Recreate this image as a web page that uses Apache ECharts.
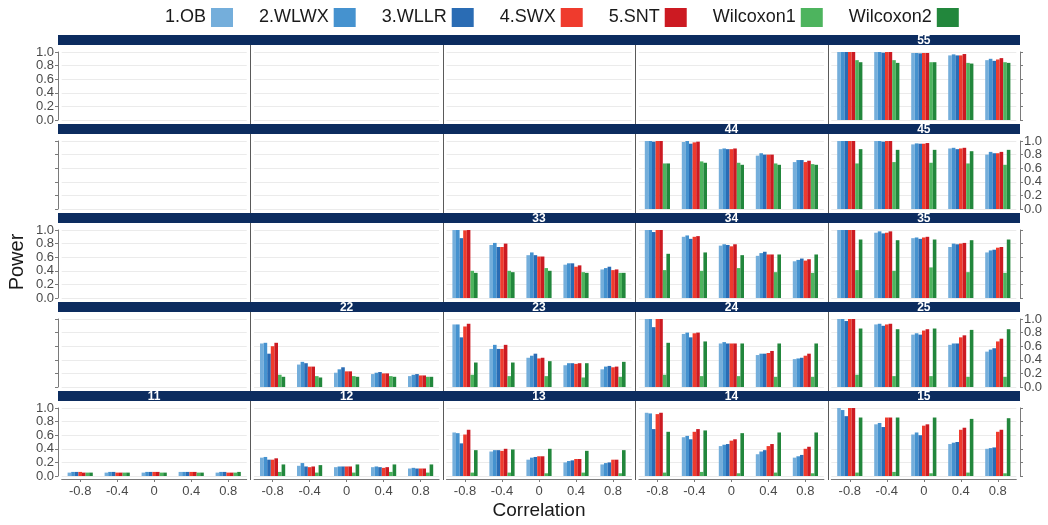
<!DOCTYPE html>
<html>
<head>
<meta charset="utf-8">
<script src="https://cdn.jsdelivr.net/npm/echarts@6/dist/echarts.min.js"></script>
<style>
  html, body { margin: 0; padding: 0; background: #ffffff; }
  #chart { width: 1048px; height: 525px; }
</style>
</head>
<body>
<div id="chart"></div>
<script>
// Categories and methods
const correlations = ['-0.8', '-0.4', '0', '0.4', '0.8'];
const methods = ['1.OB', '2.WLWX', '3.WLLR', '4.SWX', '5.SNT', 'Wilcoxon1', 'Wilcoxon2'];
const methodColors = ['#74aedb', '#4592cf', '#2a6cb4', '#ef3b2d', '#cc1a22', '#4db45e', '#22873c'];

// Power per panel: one row per method (same order as `methods`), one column per correlation
const p55 = [
  [1.00, 1.00, 0.985, 0.95, 0.88],
  [1.00, 1.00, 0.985, 0.965, 0.90],
  [1.00, 0.99, 0.98, 0.95, 0.87],
  [1.00, 1.00, 0.985, 0.95, 0.89],
  [1.00, 1.00, 0.985, 0.97, 0.91],
  [0.88, 0.88, 0.85, 0.84, 0.85],
  [0.85, 0.84, 0.85, 0.83, 0.84]
];
const p44 = [
  [1.00, 0.985, 0.88, 0.785, 0.69],
  [1.00, 1.00, 0.89, 0.82, 0.72],
  [0.99, 0.96, 0.88, 0.80, 0.72],
  [1.00, 0.98, 0.88, 0.80, 0.69],
  [1.00, 0.99, 0.89, 0.80, 0.71],
  [0.67, 0.70, 0.68, 0.67, 0.66],
  [0.67, 0.68, 0.65, 0.65, 0.65]
];
const p45 = [
  [1.00, 1.00, 0.95, 0.89, 0.80],
  [1.00, 1.00, 0.965, 0.90, 0.84],
  [1.00, 0.99, 0.96, 0.88, 0.82],
  [1.00, 1.00, 0.96, 0.89, 0.82],
  [1.00, 1.00, 0.97, 0.90, 0.84],
  [0.67, 0.69, 0.68, 0.67, 0.65],
  [0.88, 0.87, 0.87, 0.85, 0.87]
];
const p33 = [
  [1.00, 0.78, 0.63, 0.49, 0.42],
  [1.00, 0.81, 0.67, 0.51, 0.44],
  [0.88, 0.75, 0.63, 0.51, 0.46],
  [0.995, 0.75, 0.61, 0.46, 0.41],
  [1.00, 0.80, 0.61, 0.48, 0.42],
  [0.40, 0.40, 0.44, 0.38, 0.37],
  [0.37, 0.38, 0.40, 0.37, 0.37]
];
const p34 = [
  [1.00, 0.90, 0.77, 0.62, 0.54],
  [1.00, 0.92, 0.79, 0.66, 0.56],
  [0.97, 0.87, 0.78, 0.68, 0.58],
  [1.00, 0.90, 0.76, 0.64, 0.55],
  [1.00, 0.91, 0.79, 0.64, 0.57],
  [0.41, 0.40, 0.44, 0.38, 0.37],
  [0.65, 0.67, 0.63, 0.64, 0.64]
];
const p35 = [
  [1.00, 0.96, 0.88, 0.75, 0.67],
  [1.00, 0.98, 0.89, 0.80, 0.70],
  [1.00, 0.95, 0.87, 0.79, 0.71],
  [1.00, 0.96, 0.89, 0.80, 0.74],
  [1.00, 0.98, 0.90, 0.81, 0.75],
  [0.41, 0.40, 0.45, 0.38, 0.37],
  [0.86, 0.85, 0.86, 0.85, 0.86]
];
const p22 = [
  [0.64, 0.33, 0.21, 0.19, 0.16],
  [0.65, 0.37, 0.26, 0.21, 0.18],
  [0.49, 0.35, 0.29, 0.22, 0.19],
  [0.60, 0.30, 0.23, 0.20, 0.17],
  [0.65, 0.30, 0.23, 0.20, 0.17],
  [0.18, 0.16, 0.16, 0.16, 0.15],
  [0.15, 0.14, 0.15, 0.15, 0.15]
];
const p23 = [
  [0.92, 0.56, 0.43, 0.32, 0.26],
  [0.92, 0.62, 0.46, 0.35, 0.30],
  [0.73, 0.56, 0.49, 0.35, 0.31],
  [0.89, 0.56, 0.42, 0.34, 0.29],
  [0.93, 0.62, 0.43, 0.35, 0.30],
  [0.18, 0.16, 0.16, 0.14, 0.15],
  [0.36, 0.36, 0.38, 0.35, 0.37]
];
const p24 = [
  [1.00, 0.78, 0.64, 0.47, 0.41],
  [1.00, 0.80, 0.66, 0.49, 0.42],
  [0.88, 0.73, 0.64, 0.49, 0.43],
  [1.00, 0.79, 0.64, 0.50, 0.46],
  [1.00, 0.80, 0.64, 0.53, 0.49],
  [0.18, 0.16, 0.16, 0.15, 0.15],
  [0.65, 0.67, 0.64, 0.64, 0.64]
];
const p25 = [
  [1.00, 0.92, 0.77, 0.62, 0.52],
  [1.00, 0.93, 0.79, 0.64, 0.55],
  [0.97, 0.90, 0.77, 0.64, 0.57],
  [1.00, 0.92, 0.83, 0.73, 0.67],
  [1.00, 0.93, 0.85, 0.76, 0.71],
  [0.18, 0.16, 0.16, 0.15, 0.15],
  [0.86, 0.85, 0.86, 0.84, 0.85]
];
const p11 = [
  [0.05, 0.05, 0.05, 0.06, 0.05],
  [0.06, 0.06, 0.06, 0.06, 0.06],
  [0.06, 0.06, 0.06, 0.06, 0.06],
  [0.06, 0.05, 0.06, 0.06, 0.05],
  [0.05, 0.05, 0.06, 0.06, 0.05],
  [0.05, 0.05, 0.05, 0.05, 0.05],
  [0.05, 0.05, 0.05, 0.05, 0.06]
];
const p12 = [
  [0.27, 0.15, 0.13, 0.13, 0.11],
  [0.28, 0.19, 0.14, 0.14, 0.12],
  [0.24, 0.14, 0.14, 0.13, 0.11],
  [0.24, 0.13, 0.14, 0.12, 0.11],
  [0.26, 0.14, 0.14, 0.13, 0.11],
  [0.06, 0.05, 0.05, 0.06, 0.05],
  [0.17, 0.16, 0.17, 0.17, 0.17]
];
const p13 = [
  [0.64, 0.36, 0.24, 0.20, 0.17],
  [0.63, 0.38, 0.27, 0.22, 0.19],
  [0.48, 0.38, 0.28, 0.23, 0.20],
  [0.61, 0.37, 0.29, 0.25, 0.24],
  [0.68, 0.40, 0.29, 0.25, 0.24],
  [0.05, 0.05, 0.04, 0.05, 0.04],
  [0.38, 0.39, 0.40, 0.37, 0.38]
];
const p14 = [
  [0.93, 0.57, 0.44, 0.32, 0.27],
  [0.92, 0.59, 0.46, 0.36, 0.29],
  [0.69, 0.54, 0.47, 0.38, 0.31],
  [0.91, 0.65, 0.52, 0.44, 0.40],
  [0.93, 0.69, 0.54, 0.47, 0.43],
  [0.05, 0.06, 0.04, 0.05, 0.04],
  [0.65, 0.67, 0.63, 0.64, 0.64]
];
const p15 = [
  [1.00, 0.76, 0.61, 0.47, 0.40],
  [0.97, 0.78, 0.64, 0.49, 0.41],
  [0.88, 0.72, 0.60, 0.50, 0.42],
  [1.00, 0.86, 0.74, 0.68, 0.65],
  [1.00, 0.86, 0.76, 0.71, 0.68],
  [0.05, 0.06, 0.04, 0.05, 0.04],
  [0.86, 0.86, 0.86, 0.84, 0.85]
];

const panelData = {
  '55': p55, '44': p44, '45': p45, '33': p33, '34': p34, '35': p35,
  '22': p22, '23': p23, '24': p24, '25': p25,
  '11': p11, '12': p12, '13': p13, '14': p14, '15': p15
};

// Facet layout
const FONT = '"Liberation Sans", Arial, sans-serif';
const plotLeft = 58, plotRight = 1020;
const nCols = 5, nRows = 5;
const colW = (plotRight - plotLeft) / nCols;
const firstStripTop = 35, rowPitch = 89, stripH = 10;
const topPad = 17, zeroPad = 85;       // strip top -> value 1.0 / value 0.0
const catUnit = colW / 5.2;            // 5 categories plus 0.6 padding on each side
const inset = catUnit * 0.1;           // panel edge -> first category band
const stripColor = '#0c2c5f';
const axisColor = '#7a7a7a';

const grids = [], xAxes = [], yAxes = [], series = [], graphics = [];

for (let r = 0; r < nRows; r++) {
  const stripTop = firstStripTop + r * rowPitch;
  const rowNum = nRows - r;
  const labelsLeft = (r % 2 === 0);
  const panelTop = stripTop + stripH;
  const panelBottom = r === nRows - 1 ? stripTop + zeroPad + 4 : stripTop + rowPitch;

  // facet strip across the row
  graphics.push({
    type: 'rect', silent: true, z: 10,
    shape: { x: plotLeft, y: stripTop, width: plotRight - plotLeft, height: stripH },
    style: { fill: stripColor }
  });

  // column separators
  for (let k = 1; k < nCols; k++) {
    const x = Math.round(plotLeft + k * colW) + 0.5;
    graphics.push({
      type: 'line', silent: true, z: 10,
      shape: { x1: x, y1: panelTop, x2: x, y2: panelBottom },
      style: { stroke: '#5a5a5a', lineWidth: 1 }
    });
  }

  for (let c = 0; c < nCols; c++) {
    const gi = grids.length;
    const colNum = c + 1;
    const key = '' + rowNum + colNum;
    const exists = colNum >= rowNum;
    const colLeft = plotLeft + c * colW;

    grids.push({
      left: colLeft + inset,
      top: stripTop + topPad,
      width: colW - 2 * inset,
      height: zeroPad - topPad,
      containLabel: false,
      outerBoundsMode: 'none'
    });

    const outer = (c === 0 || c === nCols - 1);
    yAxes.push({
      gridIndex: gi, type: 'value', min: 0, max: 1, interval: 0.2,
      position: c === nCols - 1 ? 'right' : 'left',
      offset: inset,
      axisLine: { show: outer, lineStyle: { color: axisColor } },
      axisTick: { show: outer, length: 3, lineStyle: { color: axisColor } },
      axisLabel: {
        show: (c === 0 && labelsLeft) || (c === nCols - 1 && !labelsLeft),
        fontSize: 13, color: '#4a4a4a', fontFamily: FONT, margin: 4,
        formatter: v => v.toFixed(1)
      },
      splitLine: { show: true, lineStyle: { color: '#ebebeb', width: 1 } }
    });

    const bottomRow = (r === nRows - 1);
    xAxes.push({
      gridIndex: gi, type: 'category', data: correlations,
      offset: 3,
      axisLine: { show: bottomRow, onZero: false, lineStyle: { color: axisColor } },
      axisTick: { show: bottomRow, alignWithLabel: true, length: 3, lineStyle: { color: axisColor } },
      axisLabel: { show: bottomRow, fontSize: 13, color: '#4a4a4a', fontFamily: FONT, margin: 6 },
      splitLine: { show: false }
    });

    if (exists) {
      graphics.push({
        type: 'text', silent: true, z: 11,
        style: {
          x: colLeft + colW / 2, y: stripTop + stripH / 2 + 0.5,
          text: key, fill: '#ffffff', font: 'bold 12px ' + FONT,
          align: 'center', verticalAlign: 'middle'
        }
      });
      const rows = panelData[key];
      methods.forEach((m, mi) => {
        series.push({
          type: 'bar', name: m,
          xAxisIndex: gi, yAxisIndex: gi,
          data: rows[mi],
          itemStyle: { color: methodColors[mi] },
          barWidth: 3.6, barGap: '0%',
          silent: true
        });
      });
    }
  }
}

// axis titles
graphics.push({
  type: 'text', silent: true,
  x: 17, y: 262, rotation: Math.PI / 2,
  style: { text: 'Power', font: '20px ' + FONT, fill: '#1a1a1a', align: 'center', verticalAlign: 'middle' }
});
graphics.push({
  type: 'text', silent: true,
  style: { x: (plotLeft + plotRight) / 2, y: 511, text: 'Correlation', font: '19px ' + FONT, fill: '#1a1a1a', align: 'center', verticalAlign: 'middle' }
});

const chart = echarts.init(document.getElementById('chart'), null, { renderer: 'canvas' });
chart.setOption({
  animation: false,
  backgroundColor: '#ffffff',
  legend: {
    data: methods,
    top: 3, left: 160,
    align: 'right',
    icon: 'rect',
    itemWidth: 22, itemHeight: 19, itemGap: 26,
    textStyle: { fontSize: 18, color: '#1a1a1a', fontFamily: FONT },
    selectedMode: false
  },
  grid: grids,
  xAxis: xAxes,
  yAxis: yAxes,
  series: series,
  graphic: graphics
});
</script>
</body>
</html>
